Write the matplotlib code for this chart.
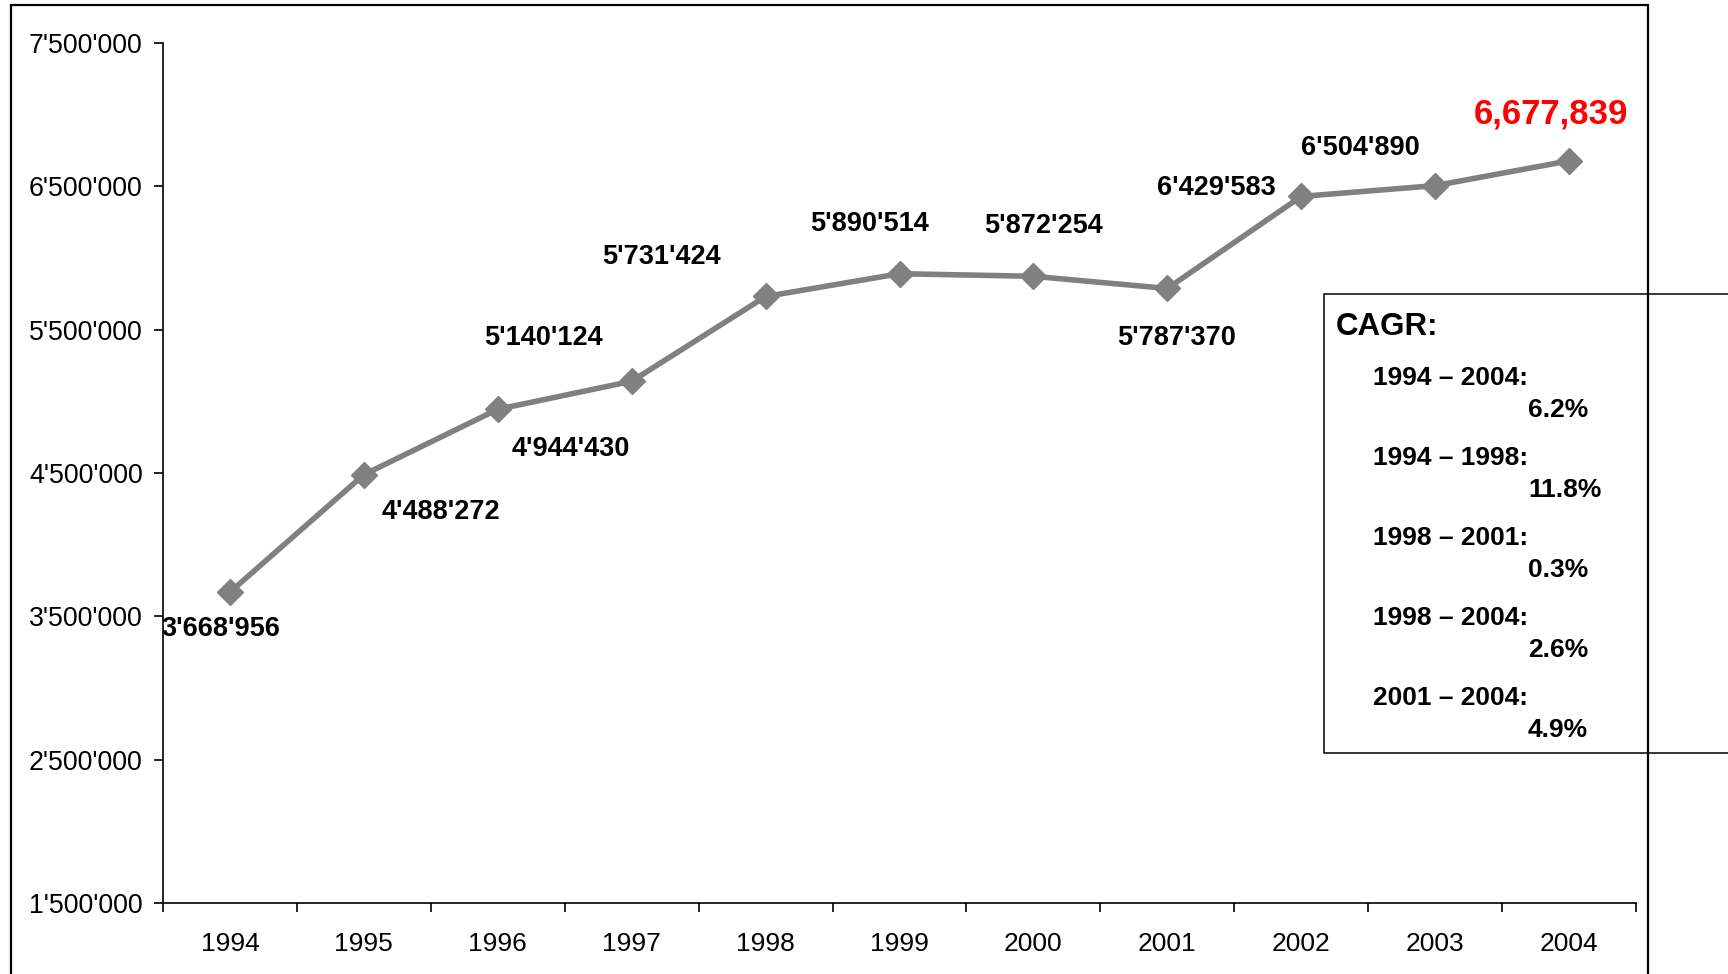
import matplotlib
matplotlib.use("Agg")
import matplotlib.pyplot as plt
from matplotlib import patches
from matplotlib.ticker import FixedLocator, FuncFormatter

plt.rcParams['font.family'] = ['Liberation Sans', 'DejaVu Sans']

years = ['1994', '1995', '1996', '1997', '1998', '1999',
         '2000', '2001', '2002', '2003', '2004']
values = [3668956, 4488272, 4944430, 5140124, 5731424, 5890514,
          5872254, 5787370, 6429583, 6504890, 6677839]

cagr_periods = ['1994 – 2004:', '1994 – 1998:', '1998 – 2001:',
                '1998 – 2004:', '2001 – 2004:']
cagr_rates = ['6.2%', '11.8%', '0.3%', '2.6%', '4.9%']

yticks = [1500000, 2500000, 3500000, 4500000, 5500000, 6500000, 7500000]

# label offsets from each point, in pixels
label_offsets = [(-9, -37), (77, -37), (73, -40), (-88, 43), (-104, 39),
                 (-30, 50), (10, 50), (9, -50), (-85, 8), (-75, 38), (-18, 47)]

W, H = 1728, 974
fig = plt.figure(figsize=(W / 100, H / 100), dpi=100)


def fx(px):
    return px / W


def fy(py):
    return 1 - py / H


ax = fig.add_axes([fx(163), fy(903), fx(1636) - fx(163), fy(43) - fy(903)])

x = list(range(len(years)))
ax.plot(x, values, color='#808080', lw=4.0, marker='D', ms=13.5,
        markerfacecolor='#808080', markeredgecolor='#808080', zorder=3)

for i, (v, off) in enumerate(zip(values, label_offsets)):
    if i == len(values) - 1:
        txt = f"{v:,}"
        ax.annotate(txt, (i, v), xytext=off, textcoords='offset pixels',
                    ha='center', va='center', fontsize=25, fontweight='bold',
                    color='#FF0000', zorder=4)
    else:
        txt = f"{v:,}".replace(",", "'")
        ax.annotate(txt, (i, v), xytext=off, textcoords='offset pixels',
                    ha='center', va='center', fontsize=19.5, fontweight='bold',
                    color='black', zorder=4)

ax.set_xlim(-0.5, len(years) - 0.5)
ax.set_ylim(1500000, 7500000)

ax.xaxis.set_major_locator(FixedLocator([i - 0.5 for i in range(len(years) + 1)]))
ax.xaxis.set_minor_locator(FixedLocator(x))
ax.xaxis.set_major_formatter(FuncFormatter(lambda v, p: ''))
ax.xaxis.set_minor_formatter(FuncFormatter(lambda v, p: years[int(round(v))]))
ax.tick_params(axis='x', which='major', direction='out', length=6.5, width=1.2)
ax.tick_params(axis='x', which='minor', length=0, pad=21, labelsize=19)

ax.yaxis.set_major_locator(FixedLocator(yticks))
ax.yaxis.set_major_formatter(FuncFormatter(lambda v, p: f"{int(v):,}".replace(",", "'")))
ax.tick_params(axis='y', direction='out', length=6.5, width=1.2, pad=8, labelsize=19.3)

for s in ['top', 'right']:
    ax.spines[s].set_visible(False)
for s in ['left', 'bottom']:
    ax.spines[s].set_linewidth(1.2)

# CAGR box (runs off the right edge)
box = patches.Rectangle((fx(1324), fy(753)), 0.5, fy(294) - fy(753),
                        transform=fig.transFigure, fill=True, facecolor='white',
                        edgecolor='black', lw=1.1, zorder=5, clip_on=False)
fig.patches.append(box)

fig.text(fx(1336), fy(327), 'CAGR:', fontsize=22.5, fontweight='bold',
         ha='left', va='center', zorder=6)
for k, (per, rate) in enumerate(zip(cagr_periods, cagr_rates)):
    y0 = 378 + k * 80
    fig.text(fx(1373), fy(y0), per, fontsize=19, fontweight='bold',
             ha='left', va='center', zorder=6)
    fig.text(fx(1528), fy(y0 + 32), rate, fontsize=19, fontweight='bold',
             ha='left', va='center', zorder=6)

# outer frame, open at the bottom
frame = patches.Rectangle((fx(11), -0.1), fx(1648) - fx(11), fy(5) + 0.1,
                          transform=fig.transFigure, fill=False,
                          edgecolor='black', lw=1.6, zorder=7, clip_on=False)
fig.patches.append(frame)

fig.savefig('out.png', dpi=100)
